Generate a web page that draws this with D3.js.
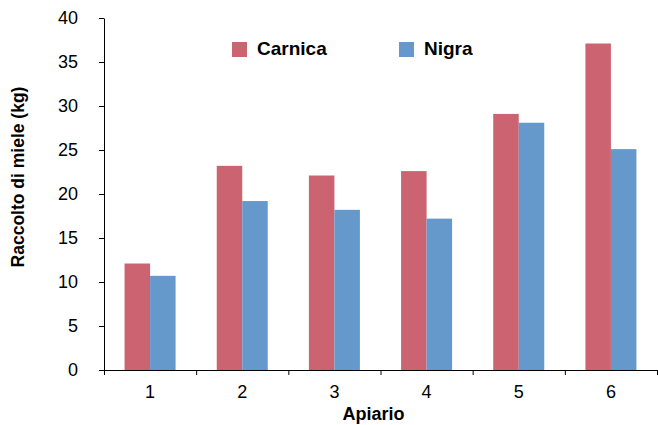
<!DOCTYPE html>
<html>
<head>
<meta charset="utf-8">
<script src="https://cdn.jsdelivr.net/npm/d3@7"></script>
<style>
  html, body { margin: 0; padding: 0; background: #fff; }
  svg { display: block; font-family: "Liberation Sans", Arial, sans-serif; }
</style>
</head>
<body>
<svg id="chart" width="658" height="425"></svg>
<script>
// Honey yield per apiary, two bee subspecies
const apiaries = ["1", "2", "3", "4", "5", "6"];
const seriesNames = ["Carnica", "Nigra"];
const carnica = [12.1, 23.2, 22.1, 22.6, 29.1, 37.1];
const nigra = [10.7, 19.2, 18.2, 17.2, 28.1, 25.1];
const yTicks = [0, 5, 10, 15, 20, 25, 30, 35, 40];
const colors = ["#CB6370", "#6599CC"];

const svg = d3.select("#chart");
const plotLeft = 104, plotRight = 657, plotTop = 18, plotBottom = 370;

const x = d3.scaleBand().domain(apiaries).range([plotLeft, plotRight]).padding(0);
const xs = d3.scaleBand().domain(seriesNames).range([0, x.bandwidth()])
  .paddingInner(0).paddingOuter(0.807);
const y = d3.scaleLinear().domain([0, 40]).range([plotBottom, plotTop]);

const rows = apiaries.map((a, i) => ({ apiary: a, values: [carnica[i], nigra[i]] }));

// bars
const groups = svg.append("g").selectAll("g").data(rows).join("g")
  .attr("transform", d => `translate(${x(d.apiary)},0)`);
groups.selectAll("rect")
  .data(d => d.values.map((v, j) => ({ name: seriesNames[j], value: v, j })))
  .join("rect")
  .attr("x", d => xs(d.name))
  .attr("y", d => y(d.value))
  .attr("width", xs.bandwidth())
  .attr("height", d => y(0) - y(d.value))
  .attr("fill", d => colors[d.j]);

// y axis
const yAxis = svg.append("g").attr("transform", `translate(${plotLeft},0)`)
  .call(d3.axisLeft(y).tickValues(yTicks).tickSize(5).tickSizeOuter(0).tickPadding(21));
yAxis.select(".domain").attr("stroke", "#000");
yAxis.selectAll(".tick line").attr("stroke", "#000");
yAxis.selectAll(".tick text").attr("font-size", 18).attr("fill", "#000")
  .attr("font-family", "Liberation Sans, Arial, sans-serif");

// x axis: boundary ticks between apiaries
const xb = d3.scaleLinear().domain([0, apiaries.length]).range([plotLeft, plotRight]);
const xAxis = svg.append("g").attr("transform", `translate(0,${plotBottom})`)
  .call(d3.axisBottom(xb).ticks(apiaries.length).tickSize(5).tickSizeOuter(0).tickFormat(""));
xAxis.select(".domain").attr("stroke", "#000");
xAxis.selectAll(".tick line").attr("stroke", "#000");

// x category labels
svg.append("g").selectAll("text").data(apiaries).join("text")
  .attr("x", d => x(d) + x.bandwidth() / 2)
  .attr("y", 398)
  .attr("text-anchor", "middle")
  .attr("font-size", 18)
  .attr("fill", "#000")
  .text(d => d);

// axis titles
svg.append("text")
  .attr("x", (plotLeft + plotRight) / 2 - 7)
  .attr("y", 420)
  .attr("text-anchor", "middle")
  .attr("font-size", 18)
  .attr("font-weight", "bold")
  .text("Apiario");

svg.append("text")
  .attr("transform", "translate(24,177) rotate(-90)")
  .attr("text-anchor", "middle")
  .attr("font-size", 17.5)
  .attr("font-weight", "bold")
  .text("Raccolto di miele (kg)");

// legend
const legendX = [232, 399];
const legend = svg.append("g").selectAll("g").data(seriesNames).join("g")
  .attr("transform", (d, i) => `translate(${legendX[i]},42)`);
legend.append("rect").attr("width", 15).attr("height", 15)
  .attr("fill", (d, i) => colors[i]);
legend.append("text")
  .attr("x", 25).attr("y", 13)
  .attr("font-size", 19)
  .attr("font-weight", "bold")
  .text(d => d);
</script>
</body>
</html>
